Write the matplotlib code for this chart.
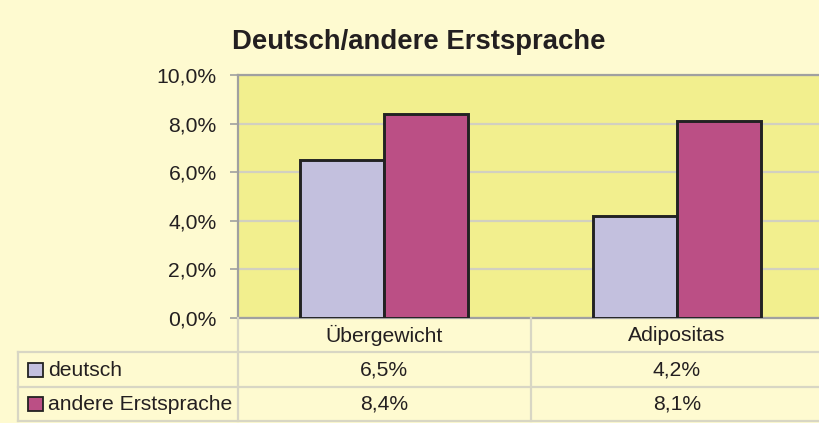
import matplotlib
matplotlib.use("Agg")
import matplotlib.pyplot as plt
from matplotlib.lines import Line2D
from matplotlib.patches import Rectangle
from matplotlib.transforms import blended_transform_factory
import numpy as np

title = "Deutsch/andere Erstsprache"
categories = ["Übergewicht", "Adipositas"]
series_names = ["deutsch", "andere Erstsprache"]
deutsch = [6.5, 4.2]
andere = [8.4, 8.1]
yticks = [0, 2, 4, 6, 8, 10]

colors = ["#C3C0DE", "#BB4F85"]
bg = "#FEFAD0"
plot_bg = "#F2EF8E"
grid_c = "#D2D0C0"
axis_c = "#A0A0A0"
table_c = "#D8D6C4"
txt_c = "#231F20"

plt.rcParams['font.family'] = ['Liberation Sans', 'DejaVu Sans']

W, H = 819, 423
fig = plt.figure(figsize=(W / 100, H / 100), dpi=100, facecolor=bg)

x0, x1 = 237.5, 823.5
ytop, ybot = 75, 318
ax = fig.add_axes([x0 / W, 1 - ybot / H, (x1 - x0) / W, (ybot - ytop) / H])
ax.set_facecolor(plot_bg)

x = np.arange(len(categories))
bw = 0.287
vals = [deutsch, andere]
for i, (v, c) in enumerate(zip(vals, colors)):
    ax.bar(x + (i - 0.5) * bw, v, width=bw, color=c, edgecolor="#222222",
           linewidth=2.1, zorder=3)

ax.set_xlim(-0.5, len(categories) - 0.5)
ax.set_ylim(0, 10)
ax.set_yticks(yticks)
ax.set_yticklabels([f"{t:.1f}%".replace(".", ",") for t in yticks], fontsize=15.2, color=txt_c)
ax.set_xticks([])
ax.yaxis.grid(True, color=grid_c, linewidth=1.6, zorder=0)
ax.set_axisbelow(True)
for s in ["left", "top", "bottom"]:
    ax.spines[s].set_color(axis_c)
    ax.spines[s].set_linewidth(1.6)
ax.spines["right"].set_visible(False)
ax.tick_params(axis="y", length=6, width=1.2, color=axis_c, pad=9)

fig.text(419 / W, 1 - 42 / H, title, ha="center", va="center", fontsize=19.8,
         fontweight="bold", color=txt_c)

# data table below the chart
def fy(py):
    return 1 - py / H

def fx(px):
    return px / W

tl, xc = 17.5, 531
rows_y = [352, 387, 421]
lw = 1.6
for yy in rows_y:
    fig.add_artist(Line2D([fx(tl), fx(W)], [fy(yy), fy(yy)], color=table_c, lw=lw))
fig.add_artist(Line2D([fx(tl), fx(tl)], [fy(352), fy(421)], color=table_c, lw=lw))
for xx in [x0, xc]:
    fig.add_artist(Line2D([fx(xx), fx(xx)], [fy(318), fy(421)], color=table_c, lw=lw))

tr = blended_transform_factory(ax.transData, fig.transFigure)
header_y = 335
row_centers = [370, 404]
for i, cat in enumerate(categories):
    fig.text(x[i], fy(header_y), cat, transform=tr, ha="center", va="center",
             fontsize=15.2, color=txt_c)
    for r, v in enumerate(vals):
        fig.text(x[i], fy(row_centers[r]), f"{v[i]:.1f}%".replace(".", ","),
                 transform=tr, ha="center", va="center", fontsize=15.2, color=txt_c)

for r, name in enumerate(series_names):
    cy = row_centers[r]
    fig.add_artist(Rectangle((fx(28), fy(cy + 7)), 15 / W, 14 / H, transform=fig.transFigure,
                             facecolor=colors[r], edgecolor="#222222", lw=1.3))
    fig.text(fx(48), fy(cy), name, ha="left", va="center", fontsize=15.2, color=txt_c)

fig.savefig("out.png", dpi=100, facecolor=bg)
